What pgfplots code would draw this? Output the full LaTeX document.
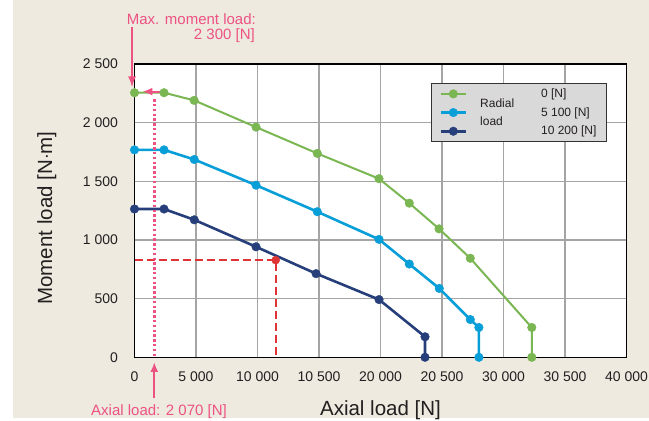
\documentclass[border=0pt]{standalone}
\usepackage{pgfplots}
\pgfplotsset{compat=1.18}
\usetikzlibrary{arrows.meta}
\usepackage{fontspec}
\setmainfont{Liberation Sans}
\definecolor{bgbeige}{RGB}{238,234,224}
\definecolor{cgreen}{RGB}{122,182,82}
\definecolor{cblue}{RGB}{8,158,216}
\definecolor{cnavy}{RGB}{38,63,122}
\definecolor{cpink}{RGB}{236,82,130}
\definecolor{cred}{RGB}{222,52,52}
\definecolor{cgrid}{RGB}{165,165,165}
\definecolor{clegend}{RGB}{217,217,217}
\definecolor{ctext}{RGB}{35,31,32}
\begin{document}
\begin{tikzpicture}
\fill[white] (0bp,0bp) rectangle (649bp,421bp);
\fill[bgbeige] (13bp,3bp) rectangle (649bp,421bp);
\useasboundingbox (0bp,0bp) rectangle (649bp,421bp);
\begin{axis}[
  at={(134.5bp,63.7bp)}, anchor=south west,
  scale only axis, width=492bp, height=293.3bp,
  xmin=0, xmax=40000, ymin=0, ymax=2500,
  clip=false,
  scaled x ticks=false, scaled y ticks=false,
  axis background/.style={fill=white},
  axis line style={line width=1.2bp, black},
  grid=major, major grid style={line width=1.1bp, cgrid},
  major tick length=0pt,
  xtick={0,5000,10000,15000,20000,25000,30000,35000,40000},
  xticklabels={0,5 000,10 000,10 500,20 000,20 500,30 000,30 500,40 000},
  ytick={0,500,1000,1500,2000,2500},
  yticklabels={0,500,1 000,1 500,2 000,2 500},
  ticklabel style={font=\fontsize{14bp}{16bp}\selectfont, text=ctext},
  xticklabel style={yshift=-11bp},
  yticklabel style={xshift=-13bp},
  xlabel={Axial load [N]}, ylabel={Moment load [N$\cdot$m]},
  label style={font=\fontsize{20.5bp}{24bp}\selectfont, text=ctext},
  xlabel style={at={(axis description cs:0.5,-0.18)}, anchor=center},
  ylabel style={at={(axis description cs:-0.178,0.475)}, anchor=center},
  legend style={at={(1,1)}, anchor=north east, xshift=-19.5bp, yshift=-19.3bp,
    fill=clegend, draw=black!80, line width=1bp,
    font=\fontsize{12bp}{14bp}\selectfont, text=ctext,
    inner xsep=8bp, inner ysep=3bp, row sep=4.5bp,
    legend cell align=left},
  legend image code/.code={
    \draw[mark repeat=2,mark phase=2,#1] plot coordinates {(0bp,0bp)(12.5bp,0bp)(25bp,0bp)};},
]
\addplot[cgreen, line width=2bp, mark=*, mark size=4.3bp, mark options={solid, fill=cgreen, draw=cgreen, line width=0.4bp}] coordinates {
(0,2255)(2400,2255)(4850,2190)(9880,1962)(14860,1738)(19880,1522)(22340,1314)(24760,1095)(27300,844)(32300,254)(32300,0)};
\addlegendentry{\hspace*{72bp}0 [N]}
\addplot[cblue, line width=2.6bp, mark=*, mark size=4.3bp, mark options={solid, fill=cblue, draw=cblue, line width=0.4bp}] coordinates {
(0,1768)(2400,1768)(4860,1686)(9880,1467)(14860,1241)(19880,1005)(22340,795)(24780,587)(27300,322)(28000,254)(28000,0)};
\addlegendentry{\hspace*{72bp}5 100 [N]}
\addplot[cnavy, line width=2.6bp, mark=*, mark size=4.3bp, mark options={solid, fill=cnavy, draw=cnavy, line width=0.4bp}] coordinates {
(0,1264)(2400,1264)(4860,1172)(9880,942)(14760,713)(19880,492)(23620,175)(23620,0)};
\addlegendentry{\hspace*{72bp}10 200 [N]}
% red example point with dashed guide lines
\addplot[cred, line width=2.4bp, dash pattern=on 8bp off 4bp, forget plot] coordinates {(0,828)(11480,828)(11480,0)};
\addplot[cred, only marks, mark=*, mark size=4bp, mark options={solid, fill=cred, draw=cred}, forget plot] coordinates {(11480,828)};
% pink dotted line
\addplot[cpink, line width=2.5bp, dash pattern=on 2.4bp off 2.4bp, forget plot] coordinates {(1610,2200)(1610,0)};
% arrows
\draw[cpink, line width=2bp, -{Latex[length=11bp,width=8bp]}] (axis cs:-200,2815) -- (axis cs:-200,2300);
\draw[cpink, line width=2bp, -{Latex[length=10bp,width=8bp]}] (axis cs:1610,-350) -- (axis cs:1610,-40);
\draw[cpink, line width=2bp, -{Latex[length=10bp,width=8bp]}] (axis cs:2300,2265) -- (axis cs:650,2265);
\end{axis}
\node[anchor=west, font=\fontsize{12bp}{14bp}\selectfont, text=ctext, inner sep=0pt] at (480bp,317.7bp) {Radial};
\node[anchor=west, font=\fontsize{12bp}{14bp}\selectfont, text=ctext, inner sep=0pt] at (480bp,299.3bp) {load};
\node[anchor=west, font=\fontsize{15bp}{17bp}\selectfont, text=cpink, inner sep=0pt] at (126.7bp,402bp) {Max. moment load:};
\node[anchor=east, font=\fontsize{15bp}{17bp}\selectfont, text=cpink, inner sep=0pt] at (255bp,385bp) {2 300 [N]};
\node[anchor=center, font=\fontsize{15bp}{17bp}\selectfont, text=cpink, inner sep=0pt] at (159bp,9.3bp) {Axial load: 2 070 [N]};
\end{tikzpicture}
\end{document}
